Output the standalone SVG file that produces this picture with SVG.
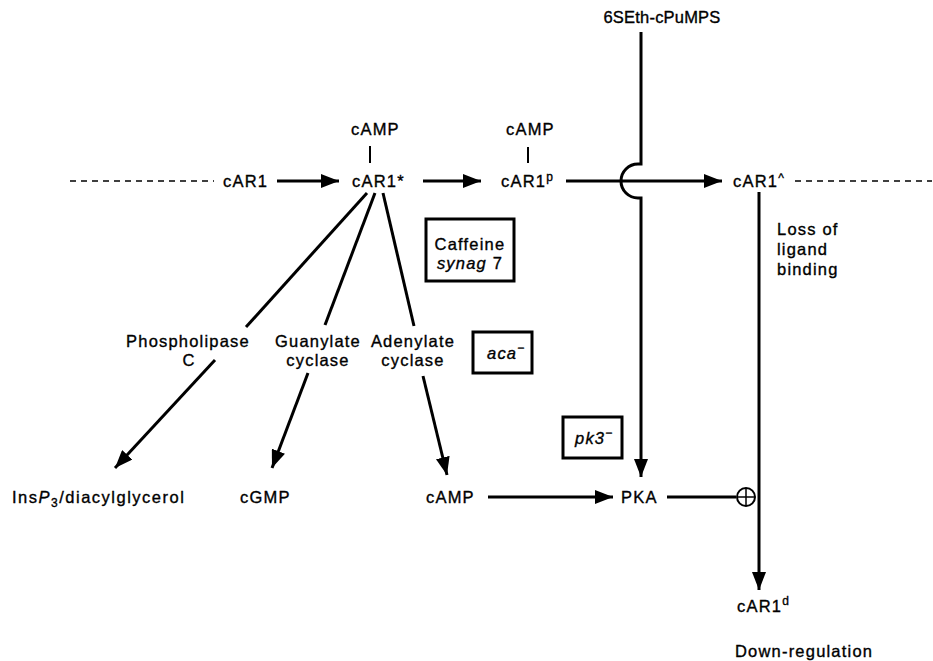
<svg xmlns="http://www.w3.org/2000/svg" width="933" height="661" viewBox="0 0 933 661">
<style>
text{font-family:"Liberation Sans",Arial,sans-serif;font-size:16.5px;fill:#000;stroke:#000;stroke-width:0.35;letter-spacing:1.2px}
.m{text-anchor:middle}
.i{font-style:italic}
.ln{stroke:#000;stroke-width:3;fill:none}
.th{stroke:#000;stroke-width:2;fill:none}
.ds{stroke:#000;stroke-width:1.5;fill:none;stroke-dasharray:6 5}
.bx{stroke:#000;stroke-width:3;fill:#fff}
.ar{marker-end:url(#ah)}
</style>
<defs>
<marker id="ah" markerUnits="userSpaceOnUse" markerWidth="18" markerHeight="14" refX="18" refY="7" orient="auto">
<path d="M0,0 L18,7 L0,14 z" fill="#000"/>
</marker>
</defs>
<g id="connectors">
<line class="ds" x1="70" y1="181" x2="214" y2="181"/>
<line class="ds" x1="795" y1="181" x2="932" y2="181"/>
<line class="ln ar" x1="277" y1="181" x2="339" y2="181"/>
<line class="ln ar" x1="423" y1="181" x2="481" y2="181"/>
<line class="ln ar" x1="566" y1="181" x2="722" y2="181"/>
<line class="th" x1="370" y1="146" x2="370" y2="163"/>
<line class="th" x1="528" y1="147" x2="528" y2="163"/>
<path class="ln ar" d="M641,32 V164 H638 A17,17 0 0 0 638,198 H641 V477"/>
<line class="ln" x1="367" y1="193" x2="246" y2="327"/>
<line class="ln ar" x1="215" y1="360" x2="115" y2="468"/>
<line class="ln" x1="375" y1="193" x2="325" y2="325"/>
<line class="ln ar" x1="308" y1="373" x2="272" y2="468"/>
<line class="ln" x1="383" y1="193" x2="414" y2="326"/>
<line class="ln ar" x1="423" y1="376" x2="447" y2="475"/>
<line class="ln ar" x1="488" y1="497" x2="613" y2="497"/>
<line class="ln" x1="667" y1="497" x2="736" y2="497"/>
<line class="ln ar" x1="759" y1="192" x2="759" y2="590"/>
</g>
<g id="plus">
<circle cx="746" cy="497" r="9" fill="none" stroke="#000" stroke-width="2"/>
<line x1="737" y1="497" x2="755" y2="497" stroke="#000" stroke-width="1.5"/>
<line x1="746" y1="488" x2="746" y2="506" stroke="#000" stroke-width="1.5"/>
</g>
<g id="cAR1"><text x="223" y="187">cAR1</text></g>
<g id="cAR1star"><text x="352" y="187">cAR1*</text></g>
<g id="cAMP1"><text x="351" y="135">cAMP</text></g>
<g id="cAR1p"><text x="501" y="187">cAR1<tspan font-size="12" dy="-6">p</tspan></text></g>
<g id="cAMP2"><text x="506" y="135">cAMP</text></g>
<g id="cAR1hat"><text x="733" y="187">cAR1<tspan font-size="12" dy="-5">^</tspan></text></g>
<g id="sEth"><text class="m" x="662" y="23" style="letter-spacing:0.2px">6SEth-cPuMPS</text></g>
<g id="loss"><text x="777" y="235">Loss of</text><text x="777" y="255">ligand</text><text x="777" y="275">binding</text></g>
<g id="caffeine"><rect class="bx" x="426" y="219" width="88" height="62"/><text class="m" x="470" y="250">Caffeine</text><text class="m" x="470" y="269"><tspan class="i">synag</tspan> 7</text></g>
<g id="aca"><rect class="bx" x="473" y="332" width="59" height="41"/><text x="487" y="359"><tspan class="i">aca</tspan><tspan font-size="12" dy="-7">−</tspan></text></g>
<g id="pk3"><rect class="bx" x="563" y="417" width="59" height="41"/><text x="575" y="444"><tspan class="i">pk3</tspan><tspan font-size="12" dy="-7">−</tspan></text></g>
<g id="plc"><text class="m" x="188" y="347">Phospholipase</text><text class="m" x="189" y="366">C</text></g>
<g id="gc"><text class="m" x="318" y="347">Guanylate</text><text class="m" x="318" y="366">cyclase</text></g>
<g id="ac"><text class="m" x="413" y="347">Adenylate</text><text class="m" x="413" y="366">cyclase</text></g>
<g id="insp3"><text x="12" y="503" style="letter-spacing:1.5px">Ins<tspan class="i">P</tspan><tspan font-size="12" dy="4">3</tspan><tspan dy="-4">/diacylglycerol</tspan></text></g>
<g id="cGMP"><text x="240" y="503">cGMP</text></g>
<g id="cAMP3"><text x="426" y="503">cAMP</text></g>
<g id="PKA"><text x="621" y="503">PKA</text></g>
<g id="cAR1d"><text x="737" y="612">cAR1<tspan font-size="12" dy="-7">d</tspan></text></g>
<g id="down"><text x="735" y="657">Down-regulation</text></g>
</svg>
